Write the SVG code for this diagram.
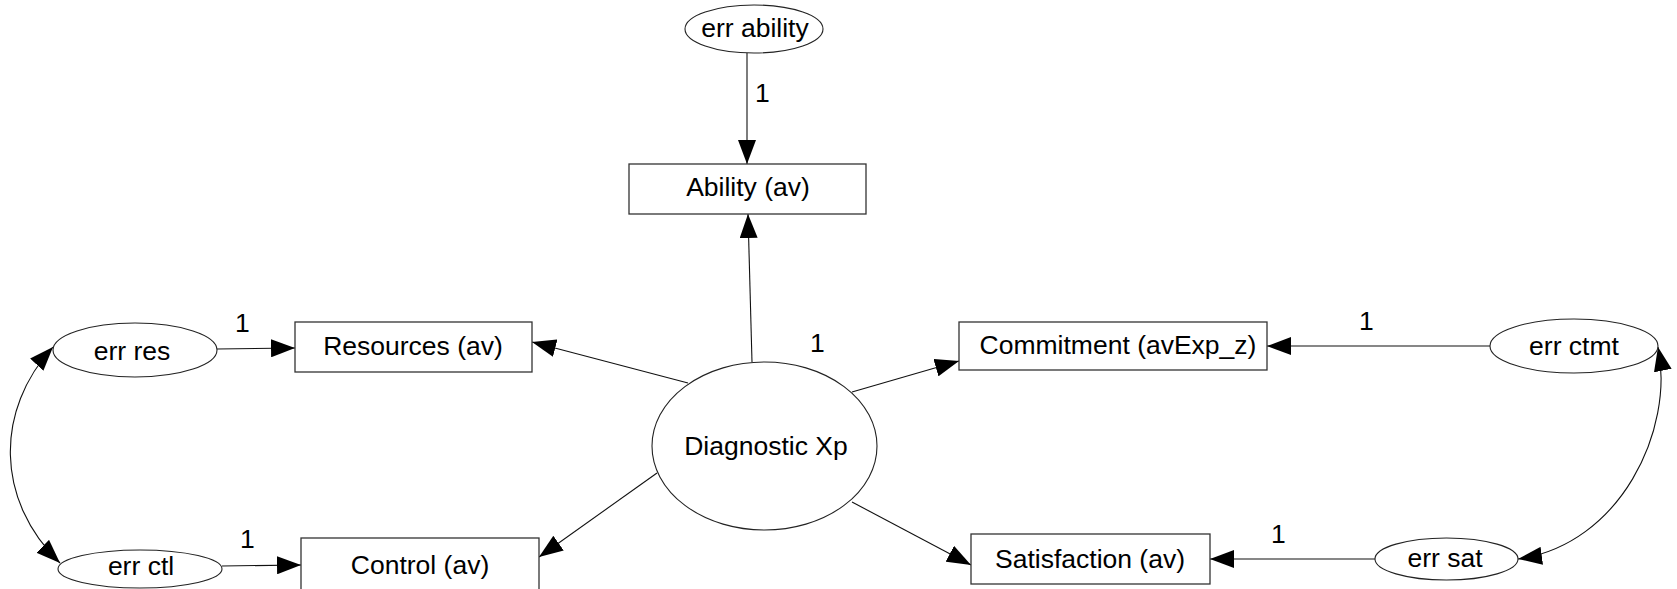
<svg xmlns="http://www.w3.org/2000/svg" width="1677" height="589" viewBox="0 0 1677 589">
<style>
text{font-family:"Liberation Sans",Arial,sans-serif;font-size:26.5px;fill:#000}
.box{fill:#fff;stroke:#333;stroke-width:1.3}
.ell{fill:#fff;stroke:#222;stroke-width:1.1}
.c{text-anchor:middle}
.ln{fill:none;stroke:#111;stroke-width:1.1}
</style>
<defs>
<marker id="ah" markerUnits="userSpaceOnUse" markerWidth="24" markerHeight="18" refX="24" refY="9" orient="auto-start-reverse">
<path d="M0,0 L24,9 L0,18 z" fill="#000"/>
</marker>
</defs>
<g id="connectors">
<line class="ln" x1="747" y1="53" x2="747" y2="164" marker-end="url(#ah)"/>
<line class="ln" x1="752" y1="362" x2="748" y2="214" marker-end="url(#ah)"/>
<line class="ln" x1="688" y1="383" x2="532" y2="342" marker-end="url(#ah)"/>
<line class="ln" x1="852" y1="392" x2="959" y2="361" marker-end="url(#ah)"/>
<line class="ln" x1="657" y1="473" x2="539" y2="557" marker-end="url(#ah)"/>
<line class="ln" x1="852" y1="502" x2="971" y2="565" marker-end="url(#ah)"/>
<line class="ln" x1="217" y1="349" x2="295" y2="348" marker-end="url(#ah)"/>
<line class="ln" x1="222" y1="566" x2="301" y2="565" marker-end="url(#ah)"/>
<line class="ln" x1="1490" y1="346" x2="1267" y2="346" marker-end="url(#ah)"/>
<line class="ln" x1="1375" y1="559" x2="1210" y2="559" marker-end="url(#ah)"/>
<path class="ln" d="M53,347 C-5,410 -5,500 60,563" marker-start="url(#ah)" marker-end="url(#ah)"/>
<path class="ln" d="M1658,347 C1675,430 1620,545 1518,559" marker-start="url(#ah)" marker-end="url(#ah)"/>
<text x="755" y="102">1</text>
<text x="810" y="352">1</text>
<text x="235" y="332">1</text>
<text x="240" y="548">1</text>
<text x="1359" y="330">1</text>
<text x="1271" y="543">1</text>
</g>
<g id="err-ability">
<ellipse class="ell" cx="754" cy="29" rx="69" ry="24"/>
<text class="c" x="755" y="37">err ability</text>
</g>
<g id="ability">
<rect class="box" x="629" y="164" width="237" height="50"/>
<text class="c" x="748" y="196">Ability (av)</text>
</g>
<g id="err-res">
<ellipse class="ell" cx="135" cy="350" rx="82" ry="27"/>
<text class="c" x="132" y="360">err res</text>
</g>
<g id="resources">
<rect class="box" x="295" y="322" width="237" height="50"/>
<text class="c" x="413" y="355">Resources (av)</text>
</g>
<g id="err-ctl">
<ellipse class="ell" cx="140" cy="569" rx="82" ry="19"/>
<text class="c" x="141" y="575">err ctl</text>
</g>
<g id="control">
<rect class="box" x="301" y="538" width="238" height="60"/>
<text class="c" x="420" y="574">Control (av)</text>
</g>
<g id="diagnostic">
<ellipse class="ell" cx="764.5" cy="446" rx="112.5" ry="84"/>
<text class="c" x="766" y="455">Diagnostic Xp</text>
</g>
<g id="commitment">
<rect class="box" x="959" y="322" width="308" height="48"/>
<text class="c" x="1118" y="354">Commitment (avExp_z)</text>
</g>
<g id="err-ctmt">
<ellipse class="ell" cx="1574" cy="346" rx="84" ry="27"/>
<text class="c" x="1574" y="355">err ctmt</text>
</g>
<g id="satisfaction">
<rect class="box" x="971" y="534" width="239" height="50"/>
<text class="c" x="1090" y="568">Satisfaction (av)</text>
</g>
<g id="err-sat">
<ellipse class="ell" cx="1446.5" cy="559" rx="71.5" ry="21"/>
<text class="c" x="1445" y="567">err sat</text>
</g>
</svg>
